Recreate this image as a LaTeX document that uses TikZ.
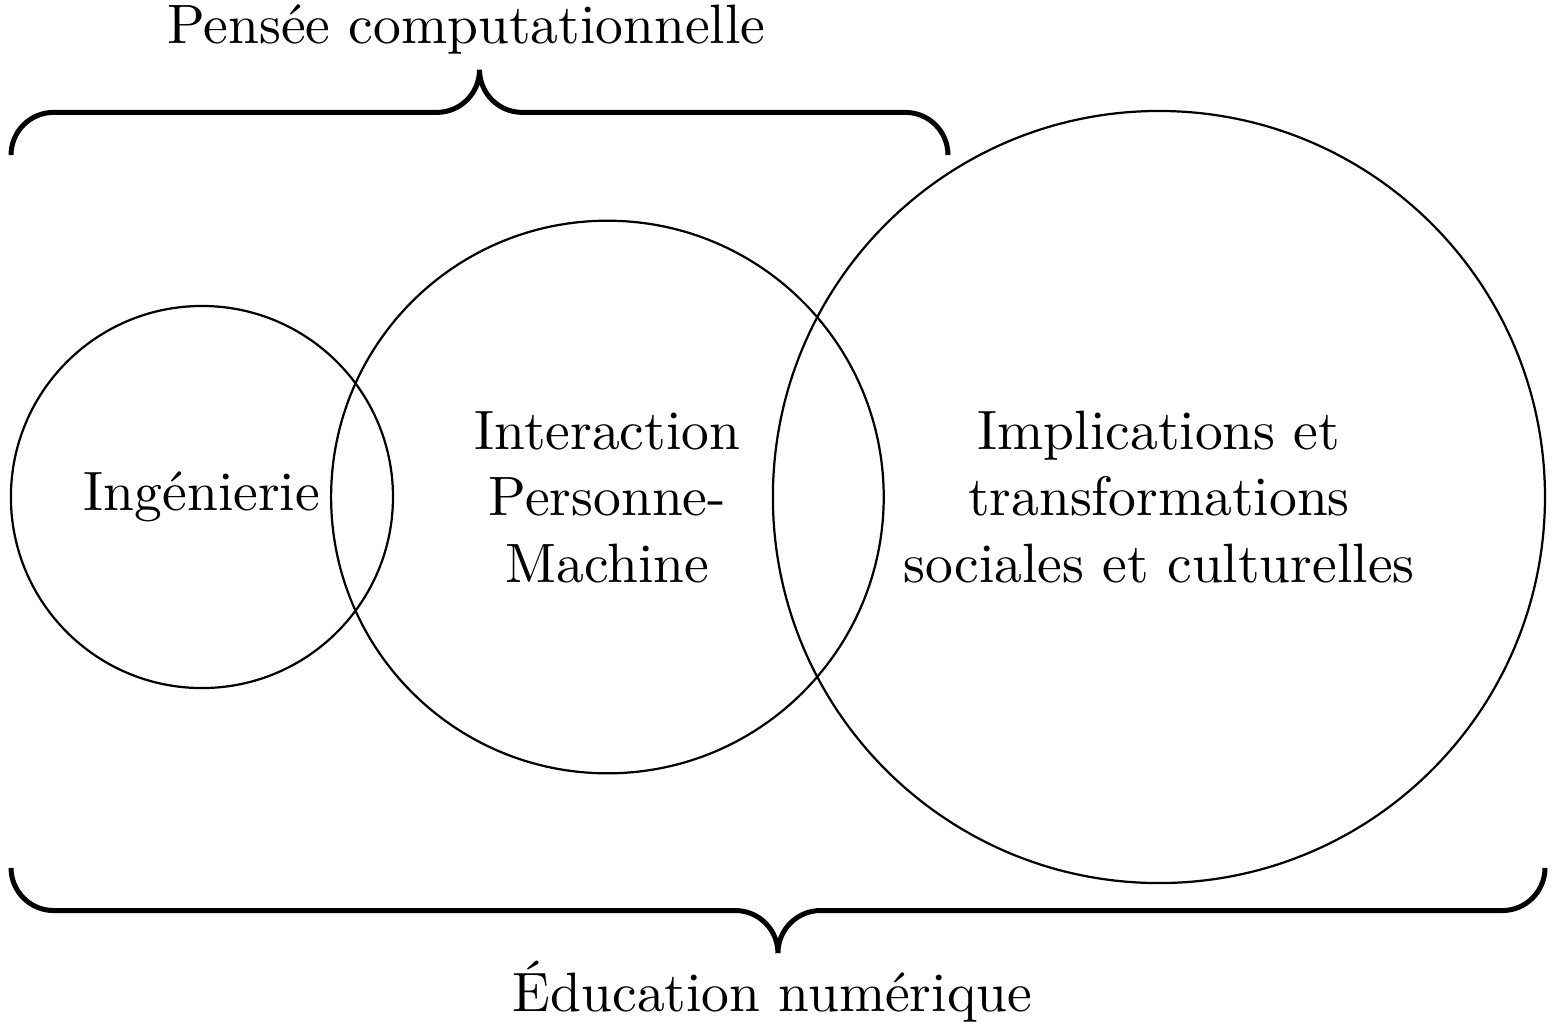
\documentclass[tikz,border=0pt]{standalone}
\usepackage{tikz}

\begin{document}
\begin{tikzpicture}[
  domaine/.style={circle, draw, inner sep=0pt, align=center},
  accolade/.style={rounded corners=0.27cm, line width=0.9pt}
]
  \useasboundingbox (0,0) rectangle (9.842,6.517);

  % les trois domaines
  \node[domaine, minimum size=2.42cm] (ing) at (1.279,3.369) {Ingénierie};
  \node[domaine, minimum size=3.50cm] (ipm) at (3.847,3.369) {Interaction\\Personne-\\Machine};
  \node[domaine, minimum size=4.89cm] (its) at (7.340,3.369) {Implications et\\transformations\\sociales et culturelles};

  % accolade du haut
  \coordinate (pc-g) at (0.070,5.535);
  \coordinate (pc-d) at (6.004,5.535);
  \coordinate (pc-m) at (3.037,5.805);
  \coordinate (pc-p) at (3.037,6.075);
  \draw[accolade] (pc-g) |- (pc-m) -- (pc-p) (pc-d) |- (pc-m) -- (pc-p);
  \node[anchor=base] (pc) at (2.954,6.244) {Pensée computationnelle};

  % accolade du bas
  \coordinate (en-g) at (0.070,1.020);
  \coordinate (en-d) at (9.785,1.020);
  \coordinate (en-m) at (4.927,0.750);
  \coordinate (en-p) at (4.927,0.480);
  \draw[accolade] (en-g) |- (en-m) -- (en-p) (en-d) |- (en-m) -- (en-p);
  \node[anchor=base] (en) at (4.892,0.108) {Éducation numérique};
\end{tikzpicture}
\end{document}
